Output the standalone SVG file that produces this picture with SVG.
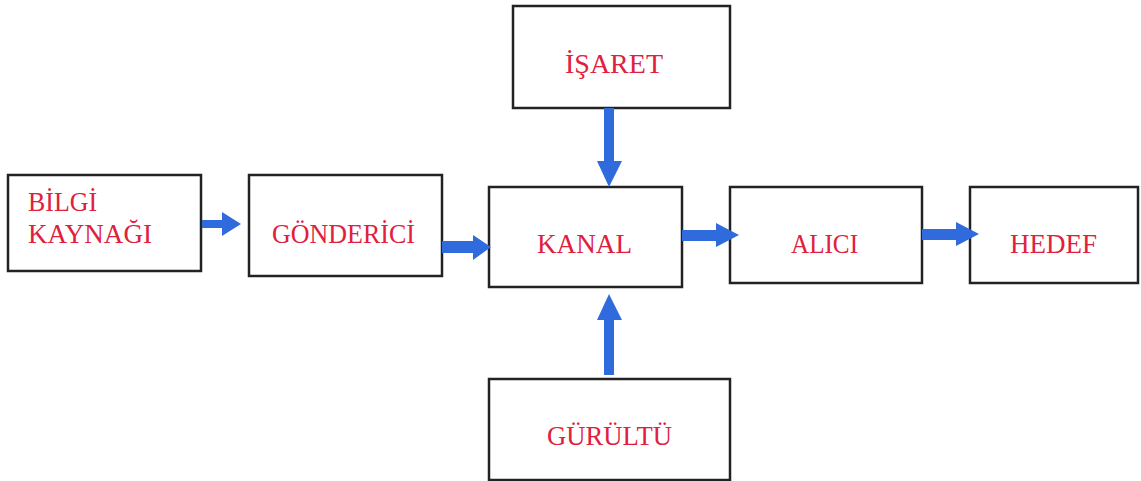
<svg xmlns="http://www.w3.org/2000/svg" width="1141" height="481" viewBox="0 0 1141 481">
<style>
.box{fill:#fff;stroke:#222;stroke-width:2.5}
.lbl{font-family:"Liberation Serif","Times New Roman",serif;font-size:27px;fill:#e0203c}
.arr{fill:#2f6bdc}
</style>
<rect width="1141" height="481" fill="#fff"/>
<g id="bilgi"><rect class="box" x="8" y="175" width="193" height="96"/><text class="lbl" x="28" y="211" textLength="69" lengthAdjust="spacingAndGlyphs">BİLGİ</text><text class="lbl" x="28" y="243" textLength="124" lengthAdjust="spacingAndGlyphs">KAYNAĞI</text></g>
<g id="gonderici"><rect class="box" x="249" y="175" width="193" height="101"/><text class="lbl" x="272" y="243" textLength="143" lengthAdjust="spacingAndGlyphs">GÖNDERİCİ</text></g>
<g id="isaret"><rect class="box" x="513" y="6" width="217" height="102"/><text class="lbl" x="565" y="73" textLength="98" lengthAdjust="spacingAndGlyphs">İŞARET</text></g>
<g id="kanal"><rect class="box" x="489" y="187" width="193" height="100"/><text class="lbl" x="537" y="253" textLength="95" lengthAdjust="spacingAndGlyphs">KANAL</text></g>
<g id="alici"><rect class="box" x="730" y="187" width="192" height="96"/><text class="lbl" x="791" y="253" textLength="67" lengthAdjust="spacingAndGlyphs">ALICI</text></g>
<g id="hedef"><rect class="box" x="970" y="187" width="168" height="96"/><text class="lbl" x="1010" y="253" textLength="87" lengthAdjust="spacingAndGlyphs">HEDEF</text></g>
<g id="gurultu"><rect class="box" x="489" y="379" width="241" height="101"/><text class="lbl" x="547" y="445" textLength="125" lengthAdjust="spacingAndGlyphs">GÜRÜLTÜ</text></g>
<g id="connectors">
<polygon class="arr" points="202,220 222,220 222,212 241,224 222,236 222,228 202,228"/>
<polygon class="arr" points="442,241 473,241 473,235 491,247 473,260 473,253 442,253"/>
<polygon class="arr" points="682,230 716,230 716,223 739,235 716,247 716,241 682,241"/>
<polygon class="arr" points="922,229 956,229 956,222 979,234 956,246 956,240 922,240"/>
<polygon class="arr" points="604,108 614,108 614,161 622,161 609,187 597,161 604,161"/>
<polygon class="arr" points="604,375 614,375 614,320 622,320 609,294 597,320 604,320"/>
</g>
</svg>
